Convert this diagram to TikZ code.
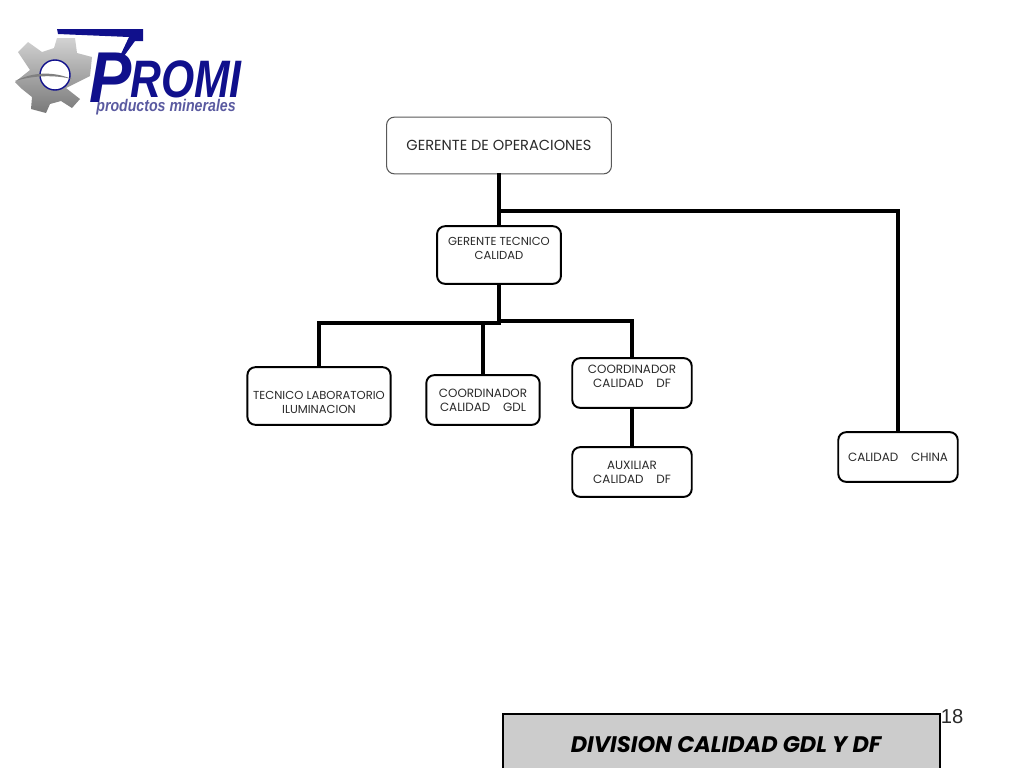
\documentclass[tikz,border=0pt]{standalone}
\usepackage{fontspec}
\setmainfont{Poppins}
\newfontfamily\arialfont{Liberation Sans}
\definecolor{promiblue}{HTML}{10108C}
\definecolor{promislate}{HTML}{5A5AA0}
\definecolor{titlegray}{HTML}{CCCCCC}
\definecolor{textgray}{HTML}{2A2A2A}
\newcommand{\movetext}[2]{\raisebox{#1}[0pt][0pt]{\begin{tabular}{@{}c@{}}#2\end{tabular}}}
\tikzset{
  puesto/.style={draw=black, fill=white, text=textgray, rounded corners=4.5pt, line width=1.1pt, align=center, inner sep=0pt, font=\fontsize{6.8}{7.9}\selectfont},
  enlace/.style={line width=2.1pt, line cap=rect},
  logotext/.style={inner sep=0pt, text=promiblue, font=\arialfont\bfseries\itshape}
}
\begin{document}
\begin{tikzpicture}[x=0.02cm, y=-0.02cm]
            \useasboundingbox (0,0) rectangle (1024,768);

            % logo
            \shade [top color=gray!35, middle color=gray!40, bottom color=gray!95!black]
            (57,38) -- (75,38) -- (77,53) -- (92,57) -- (90,76) -- (66,88) -- (80,99) -- (72,108)
            -- (61,101) -- (50,104) -- (46,113) -- (31,109) -- (32,97) -- (22,89) -- (15,82)
            -- (30,70) -- (18,52) -- (28,42) -- (42,52) -- (54,48) -- cycle;
            \draw [fill=white, draw=promiblue, line width=0.8pt] (55,75) circle (15);
            \fill [gray] (15,81) .. controls (35,71) and (55,72) .. (72,79) .. controls (55,75) and (35,75) .. (15,81) -- cycle;
            \fill [promiblue] (57,29) -- (143,29) -- (143,41) -- (135,41) -- (124,56) -- (121,54) -- (129,37) -- (58,34) -- cycle;
            \node [logotext, anchor=base west, font=\arialfont\bfseries\itshape\fontsize{41}{41}\selectfont] (logoP) at (89,102) {\scalebox{0.88}[1]{P}};
            \node [logotext, anchor=base west, font=\arialfont\bfseries\itshape\fontsize{30}{30}\selectfont] (logoROMI) at (130,97) {\scalebox{0.81}[1]{ROMI}};
            \node [logotext, anchor=base west, text=promislate, font=\arialfont\bfseries\itshape\fontsize{9.6}{9.6}\selectfont] (logoSub) at (96,111) {\scalebox{0.84}[1]{productos minerales}};

            % organigrama
            \node [puesto, draw=black!65, line width=0.6pt, minimum width=128pt, minimum height=32.3pt, font=\fontsize{8.3}{9}\selectfont] (operaciones) at (499,145.5) {GERENTE DE OPERACIONES};
            \node [puesto, minimum width=70.5pt, minimum height=32.8pt, font=\fontsize{6.6}{7.9}\selectfont] (tecnico) at (499,255) {\movetext{1.2pt}{GERENTE TECNICO\\CALIDAD}};
            \node [puesto, minimum width=81.5pt, minimum height=32.8pt, font=\fontsize{6.6}{7.9}\selectfont] (laboratorio) at (319,396) {\movetext{-6.3pt}{TECNICO LABORATORIO\\ILUMINACION}};
            \node [puesto, minimum width=64.5pt, minimum height=28.3pt] (gdl) at (483,400) {COORDINADOR\\CALIDAD\ \ \ \ GDL};
            \node [puesto, minimum width=68pt, minimum height=28.3pt] (df) at (632,383) {\movetext{1.5pt}{COORDINADOR\\CALIDAD\ \ \ \ DF}};
            \node [puesto, minimum width=68pt, minimum height=28.3pt] (auxiliar) at (632,472) {AUXILIAR\\CALIDAD\ \ \ \ DF};
            \node [puesto, minimum width=68pt, minimum height=28.3pt] (china) at (898,457) {CALIDAD\ \ \ \ CHINA};

            \coordinate (ramaChina) at (499,211);
            \coordinate (ramaIzq) at (499,323);
            \coordinate (ramaDer) at (499,321);

            \draw [enlace] (operaciones.south) -- (tecnico.north);
            \draw [enlace] (ramaChina) -| (china.north);
            \draw [enlace] (tecnico.south) -- (ramaIzq);
            \draw [enlace] (ramaIzq) -| (laboratorio.north);
            \draw [enlace] (ramaIzq -| gdl.north) -- (gdl.north);
            \draw [enlace] (ramaDer) -| (df.north);
            \draw [enlace] (df.south) -- (auxiliar.north);

            % titulo
            \path [fill=titlegray] (503,768) -- (503,714) -- (940,714) -- (940,768) -- cycle;
            \draw [line width=0.6pt] (503,768) -- (503,714) -- (940,714) -- (940,768);
            \node [inner sep=0pt, font=\bfseries\itshape\fontsize{12.8}{15}\selectfont] (titulo) at (726,745) {DIVISION CALIDAD GDL Y DF};
            \node [inner sep=0pt, font=\arialfont\fontsize{11.5}{14}\selectfont, text=textgray] (pagina) at (952,717) {18};
            \end{tikzpicture}
\end{document}
